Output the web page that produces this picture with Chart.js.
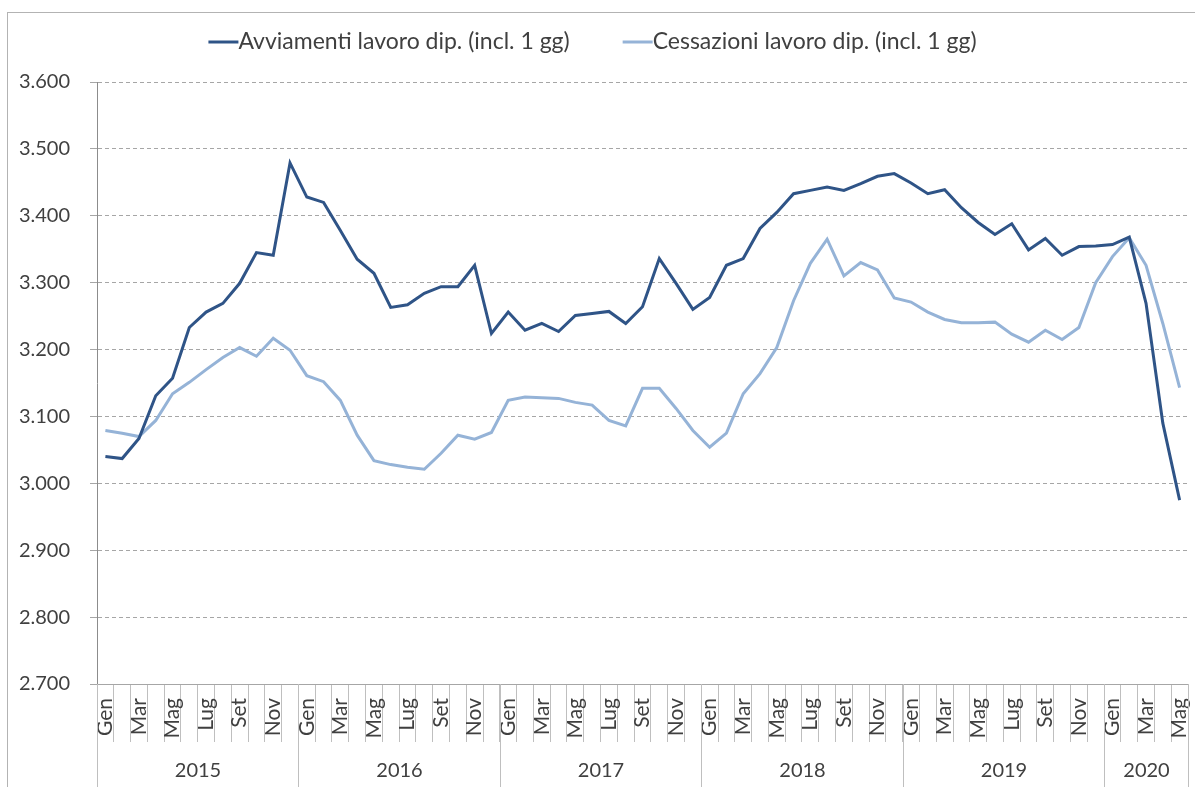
<!DOCTYPE html>
<html>
<head>
<meta charset="utf-8">
<script src="https://cdn.jsdelivr.net/npm/chart.js@4"></script>
<style>
  html, body { margin: 0; padding: 0; background: #fff; }
  #wrap { width: 1195px; height: 787px; }
</style>
</head>
<body>
<div id="wrap"><canvas id="chart" width="1195" height="787"></canvas></div>
<script>
// data (thousands)
const years = ['2015', '2016', '2017', '2018', '2019', '2020'];
const monthNames = ['Gen', 'Feb', 'Mar', 'Apr', 'Mag', 'Giu', 'Lug', 'Ago', 'Set', 'Ott', 'Nov', 'Dic'];
const monthsInLastYear = 5;

const avviamenti = [
    3040, 3037, 3067, 3131, 3157, 3233, 3256, 3269, 3299, 3345, 3341, 3479,
    3428, 3420, 3378, 3335, 3314, 3263, 3267, 3284, 3294, 3294, 3326, 3224,
    3256, 3229, 3239, 3227, 3251, 3254, 3257, 3239, 3264, 3336, 3299, 3260,
    3278, 3326, 3336, 3381, 3405, 3433, 3438, 3443, 3438, 3448, 3459, 3463,
    3449, 3433, 3439, 3412, 3390, 3372, 3388, 3349, 3366, 3341, 3354, 3355,
    3357, 3368, 3269, 3090, 2975
];
const cessazioni = [
    3079, 3075, 3070, 3094, 3134, 3151, 3170, 3188, 3203, 3190, 3217, 3199,
    3161, 3152, 3124, 3072, 3034, 3028, 3024, 3021, 3045, 3072, 3066, 3076,
    3124, 3129, 3128, 3127, 3121, 3117, 3094, 3086, 3142, 3142, 3112, 3079,
    3054, 3075, 3134, 3164, 3203, 3273, 3329, 3365, 3310, 3330, 3319, 3277,
    3271, 3256, 3245, 3240, 3240, 3241, 3223, 3211, 3229, 3215, 3233, 3300,
    3339, 3367, 3326, 3239, 3143
];

// labels: month + year, one per data point
const labels = [];
years.forEach((y, yi) => {
    const n = yi === years.length - 1 ? monthsInLastYear : 12;
    for (let m = 0; m < n; m++) labels.push([monthNames[m], y]);
});

const FONT = 'Lato, "Open Sans", sans-serif';
const TEXT = '#404040';
const LINES = '#bfbfbf';

// Excel-style legend: short line, text right after it, wide gap between items
const lineLegend = {
    id: 'lineLegend',
    afterDraw(chart) {
        const ctx = chart.ctx;
        const sets = chart.data.datasets;
        const lineLen = 30, gap = 53, y = 42;
        ctx.save();
        ctx.font = '23px ' + FONT;
        const widths = sets.map(d => lineLen + ctx.measureText(d.label).width);
        const total = widths.reduce((a, b) => a + b, 0) + gap * (sets.length - 1);
        let x = chart.width / 2 - 5 - total / 2;
        ctx.textBaseline = 'middle';
        ctx.textAlign = 'left';
        sets.forEach((d, i) => {
            ctx.strokeStyle = d.borderColor;
            ctx.lineWidth = 3;
            ctx.beginPath();
            ctx.moveTo(x, y);
            ctx.lineTo(x + lineLen, y);
            ctx.stroke();
            ctx.fillStyle = TEXT;
            ctx.fillText(d.label, x + lineLen, y);
            x += widths[i] + gap;
        });
        ctx.restore();
    }
};

// outer frame + year row under the month labels
const yearAxis = {
    id: 'yearAxis',
    afterDraw(chart) {
        const ctx = chart.ctx;
        const x = chart.scales.x;
        const half = (x.getPixelForValue(1) - x.getPixelForValue(0)) / 2;
        const top = x.top;
        const bottom = chart.height;
        ctx.save();
        ctx.strokeStyle = '#b3b3b3';
        ctx.lineWidth = 1;
        ctx.strokeRect(7.5, 12.5, chart.width, chart.height);

        ctx.strokeStyle = LINES;
        ctx.font = '20px ' + FONT;
        ctx.fillStyle = TEXT;
        ctx.textAlign = 'center';
        ctx.textBaseline = 'middle';
        let start = 0;
        years.forEach((y, yi) => {
            const n = yi === years.length - 1 ? monthsInLastYear : 12;
            const x0 = Math.round(x.getPixelForValue(start) - half) + 0.5;
            const x1 = Math.round(x.getPixelForValue(start + n - 1) + half) + 0.5;
            ctx.beginPath();
            ctx.moveTo(x0, top);
            ctx.lineTo(x0, bottom);
            ctx.moveTo(x1, top);
            ctx.lineTo(x1, bottom);
            ctx.stroke();
            ctx.fillText(y, (x0 + x1) / 2, top + 87);
            start += n;
        });
        ctx.restore();
    }
};

new Chart(document.getElementById('chart'), {
    type: 'line',
    data: {
        labels: labels,
        datasets: [{
            label: 'Avviamenti lavoro dip. (incl. 1 gg)',
            data: avviamenti,
            borderColor: '#2f5487',
            backgroundColor: '#2f5487',
            borderWidth: 3,
            pointRadius: 0,
            tension: 0
        }, {
            label: 'Cessazioni lavoro dip. (incl. 1 gg)',
            data: cessazioni,
            borderColor: '#95b3d7',
            backgroundColor: '#95b3d7',
            borderWidth: 3,
            pointRadius: 0,
            tension: 0
        }]
    },
    options: {
        responsive: false,
        animation: false,
        layout: { padding: { top: 82, left: 0, right: 7, bottom: 0 } },
        plugins: {
            legend: { display: false },
            tooltip: { enabled: false }
        },
        scales: {
            x: {
                offset: true,
                afterFit: s => { s.height = 103; },
                grid: {
                    offset: true,
                    drawOnChartArea: false,
                    tickLength: 58,
                    color: LINES
                },
                border: { display: true, color: '#a6a6a6', width: 1 },
                ticks: {
                    autoSkip: false,
                    minRotation: 90,
                    maxRotation: 90,
                    padding: -44,
                    color: TEXT,
                    font: { family: FONT, size: 21 },
                    callback: (v, i) => (i % 2 === 0 ? labels[i][0] : '')
                }
            },
            y: {
                min: 2700,
                max: 3600,
                afterFit: s => { s.width = 97; },
                grid: {
                    color: '#a6a6a6',
                    tickLength: 7,
                    tickBorderDash: []
                },
                border: { display: true, color: '#8c8c8c', width: 1, dash: [4, 3] },
                ticks: {
                    stepSize: 100,
                    padding: 20,
                    color: TEXT,
                    font: { family: FONT, size: 20 },
                    callback: v => v.toLocaleString('it-IT').replace(/(\d)(\d{3})$/, '$1.$2')
                }
            }
        }
    },
    plugins: [lineLegend, yearAxis]
});
</script>
</body>
</html>
